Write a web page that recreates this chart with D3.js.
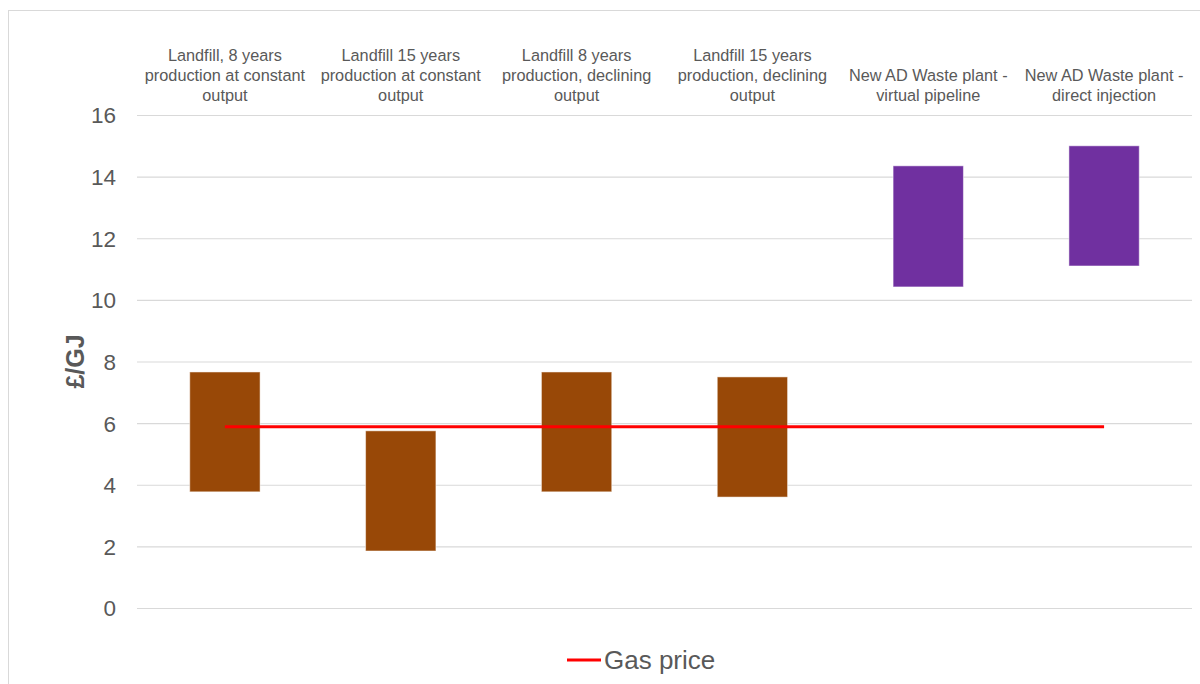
<!DOCTYPE html>
<html>
<head>
<meta charset="utf-8">
<script src="https://cdn.jsdelivr.net/npm/d3@7"></script>
<style>
  body { margin: 0; background: #fff; }
  svg { display: block; font-family: "Liberation Sans", Arial, sans-serif; }
  .tick text { fill: #595959; }
</style>
</head>
<body>
<svg></svg>
<script>
// data
var categories = [
  ["Landfill, 8 years", "production at constant", "output"],
  ["Landfill 15 years", "production at constant", "output"],
  ["Landfill 8 years", "production, declining", "output"],
  ["Landfill 15 years", "production, declining", "output"],
  ["New AD Waste plant -", "virtual pipeline"],
  ["New AD Waste plant -", "direct injection"]
];
var lowValues  = [3.77, 1.85, 3.77, 3.6, 10.42, 11.1];
var highValues = [7.66, 5.75, 7.66, 7.5, 14.35, 15.0];
var barColors  = ["#984807", "#984807", "#984807", "#984807", "#7030a0", "#7030a0"];
var gasPrice   = [5.88, 5.88, 5.88, 5.88, 5.88, 5.88];
var yTicks     = [0, 2, 4, 6, 8, 10, 12, 14, 16];

var width = 1200, height = 684;
var margin = {top: 115, right: 8, bottom: 76, left: 137};

var svg = d3.select("svg").attr("width", width).attr("height", height);

// chart frame
svg.append("rect")
  .attr("x", 8.5).attr("y", 10.5)
  .attr("width", 1200).attr("height", 700)
  .attr("fill", "none").attr("stroke", "#d9d9d9");

var x = d3.scaleBand()
  .domain(d3.range(categories.length))
  .range([margin.left, width - margin.right])
  .paddingInner(0.6).paddingOuter(0.3);

var y = d3.scaleLinear()
  .domain([0, 16])
  .range([height - margin.bottom, margin.top]);

// gridlines + y labels
var yAxis = d3.axisLeft(y)
  .tickValues(yTicks)
  .tickSize(-(width - margin.right - margin.left))
  .tickPadding(21);

var ga = svg.append("g")
  .attr("transform", "translate(" + margin.left + ",0)")
  .call(yAxis);
ga.select(".domain").remove();
ga.selectAll(".tick line").attr("stroke", "#d9d9d9").attr("stroke-width", 1.2);
ga.selectAll(".tick text").style("font-size", "22.5px").attr("dy", "0.35em");

svg.append("text")
  .attr("transform", "translate(84," + y(8) + ") rotate(-90)")
  .attr("text-anchor", "middle")
  .style("font-size", "25px")
  .style("font-weight", "bold")
  .attr("fill", "#595959")
  .text("£/GJ");

// category labels on top, bottom aligned
var lab = svg.append("g").selectAll("text")
  .data(categories)
  .enter().append("text")
  .attr("text-anchor", "middle")
  .attr("fill", "#595959")
  .style("font-size", "16.3px")
  .attr("transform", function(d, i) {
    return "translate(" + (x(i) + x.bandwidth() / 2) + "," + (101 - 20 * (d.length - 1)) + ")";
  });
lab.selectAll("tspan")
  .data(function(d) { return d; })
  .enter().append("tspan")
  .attr("x", 0)
  .attr("dy", function(d, j) { return j === 0 ? 0 : 20; })
  .text(function(d) { return d; });

// floating bars
svg.append("g").selectAll("rect")
  .data(lowValues)
  .enter().append("rect")
  .attr("x", function(d, i) { return x(i); })
  .attr("width", x.bandwidth())
  .attr("y", function(d, i) { return y(highValues[i]); })
  .attr("height", function(d, i) { return y(d) - y(highValues[i]); })
  .attr("fill", function(d, i) { return barColors[i]; })
  .attr("stroke", "#fff")
  .attr("stroke-opacity", 0.5)
  .attr("stroke-width", 1);

// gas price line
var line = d3.line()
  .x(function(d, i) { return x(i) + x.bandwidth() / 2; })
  .y(function(d) { return y(d); });

svg.append("path").datum(gasPrice)
  .attr("d", line)
  .attr("fill", "none")
  .attr("stroke", "#ff0000")
  .attr("stroke-width", 3);

// legend
var leg = svg.append("g").attr("transform", "translate(567,660)");
leg.append("line")
  .attr("x1", 0).attr("x2", 34)
  .attr("y1", 0).attr("y2", 0)
  .attr("stroke", "#ff0000").attr("stroke-width", 3);
leg.append("text")
  .attr("x", 37).attr("y", 9)
  .attr("fill", "#595959")
  .style("font-size", "26px")
  .text("Gas price");
</script>
</body>
</html>
